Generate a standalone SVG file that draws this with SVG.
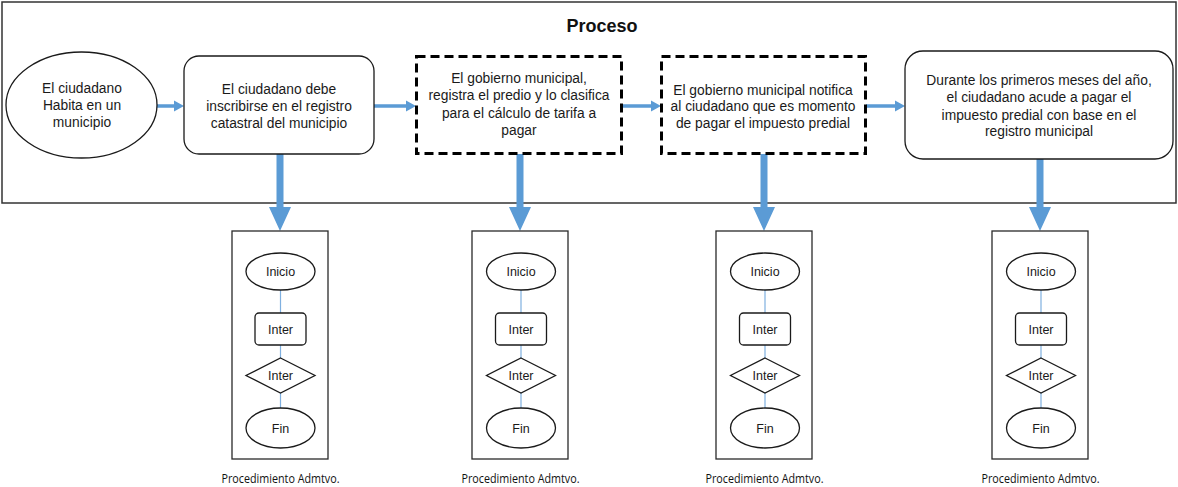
<svg xmlns="http://www.w3.org/2000/svg" width="1178" height="487" viewBox="0 0 1178 487">
<style>
.t{font-family:"Liberation Sans",Arial,sans-serif;font-size:13.8px;fill:#1a1a1a;text-anchor:middle}
.s{font-family:"Liberation Sans",Arial,sans-serif;font-size:12.5px;fill:#1a1a1a;text-anchor:middle}
.l{font-family:"Open Sans","Liberation Sans",sans-serif;font-size:12px;fill:#111;text-anchor:middle}
.n{fill:#fff;stroke:#1a1a1a;stroke-width:1.3}
.d{fill:#fff;stroke:#000;stroke-width:3;stroke-dasharray:9 5}
.a{fill:#5b9bd5}
.c{stroke:#7fb0e0;stroke-width:1.2;fill:none}
.f{fill:none;stroke:#2a2a2a;stroke-width:1.3}
</style>
<rect width="1178" height="487" fill="#fff"/>
<rect id="frame" x="2" y="2" width="1174" height="201" fill="none" stroke="#333" stroke-width="1.5"/>
<text x="602" y="32" style="font-family:'Liberation Sans',Arial,sans-serif;font-size:18px;font-weight:bold;text-anchor:middle;fill:#111">Proceso</text>

<g id="connectors">
<polygon class="a" points="157,104.2 174,104.2 174,100.5 184,106 174,111.5 174,107.8 157,107.8"/>
<polygon class="a" points="374,104.2 406,104.2 406,100.5 416,106 406,111.5 406,107.8 374,107.8"/>
<polygon class="a" points="622,104.2 651,104.2 651,100.5 661,106 651,111.5 651,107.8 622,107.8"/>
<polygon class="a" points="866,104.2 895,104.2 895,100.5 905,106 895,111.5 895,107.8 866,107.8"/>
<polygon class="a" points="276.5,154 283.5,154 283.5,207 291,207 280,231 269,207 276.5,207"/>
<polygon class="a" points="516.5,154 523.5,154 523.5,207 531,207 520,231 509,207 516.5,207"/>
<polygon class="a" points="760.5,154 767.5,154 767.5,207 775,207 764,231 753,207 760.5,207"/>
<polygon class="a" points="1036.5,159 1043.5,159 1043.5,207 1051,207 1040,231 1029,207 1036.5,207"/>
</g>

<g id="n1">
<ellipse class="n" cx="81.5" cy="105" rx="75.5" ry="53"/>
<text class="t" x="82" y="93">El ciudadano</text>
<text class="t" x="82" y="110">Habita en un</text>
<text class="t" x="82" y="127">municipio</text>
</g>
<g id="n2">
<rect class="n" x="184" y="56" width="190" height="98" rx="15"/>
<text class="t" x="279" y="94">El ciudadano debe</text>
<text class="t" x="279" y="111">inscribirse en el registro</text>
<text class="t" x="279" y="128">catastral del municipio</text>
</g>
<g id="n3">
<rect class="d" x="416.5" y="56.5" width="205" height="97"/>
<text class="t" x="519" y="83">El gobierno municipal,</text>
<text class="t" x="519" y="100">registra el predio y lo clasifica</text>
<text class="t" x="519" y="118">para el cálculo de tarifa a</text>
<text class="t" x="519" y="135">pagar</text>
</g>
<g id="n4">
<rect class="d" x="661.5" y="56.5" width="204" height="97"/>
<text class="t" x="763" y="95">El gobierno municipal notifica</text>
<text class="t" x="763" y="111">al ciudadano que es momento</text>
<text class="t" x="763" y="128">de pagar el impuesto predial</text>
</g>
<g id="n5">
<rect class="n" x="905" y="51" width="268" height="108" rx="18"/>
<text class="t" x="1039" y="85">Durante los primeros meses del año,</text>
<text class="t" x="1039" y="102">el ciudadano acude a pagar el</text>
<text class="t" x="1039" y="120">impuesto predial con base en el</text>
<text class="t" x="1039" y="136">registro municipal</text>
</g>

<g id="p1">
<rect class="f" x="232" y="231" width="96" height="228"/>
<line class="c" x1="280.5" y1="290" x2="280.5" y2="313"/>
<line class="c" x1="280.5" y1="345" x2="280.5" y2="358"/>
<line class="c" x1="280.5" y1="393" x2="280.5" y2="408"/>
<ellipse class="n" cx="280.5" cy="271.5" rx="34.5" ry="18.5"/>
<text class="s" x="280.5" y="276">Inicio</text>
<rect class="n" x="255" y="313" width="51" height="32" rx="4"/>
<text class="s" x="280.5" y="334">Inter</text>
<polygon class="n" points="280.5,358 315,375.5 280.5,393 246,375.5"/>
<text class="s" x="280.5" y="380">Inter</text>
<ellipse class="n" cx="280.5" cy="428" rx="34.5" ry="20"/>
<text class="s" x="280.5" y="433">Fin</text>
<text class="l" x="280.5" y="483" textLength="118" lengthAdjust="spacingAndGlyphs">Procedimiento Admtvo.</text>
</g>
<g id="p2">
<rect class="f" x="472" y="231" width="96" height="228"/>
<line class="c" x1="521" y1="290" x2="521" y2="313"/>
<line class="c" x1="521" y1="345" x2="521" y2="358"/>
<line class="c" x1="521" y1="393" x2="521" y2="408"/>
<ellipse class="n" cx="521" cy="271.5" rx="34.5" ry="18.5"/>
<text class="s" x="521" y="276">Inicio</text>
<rect class="n" x="495.5" y="313" width="51" height="32" rx="4"/>
<text class="s" x="521" y="334">Inter</text>
<polygon class="n" points="521,358 555.5,375.5 521,393 486.5,375.5"/>
<text class="s" x="521" y="380">Inter</text>
<ellipse class="n" cx="521" cy="428" rx="34.5" ry="20"/>
<text class="s" x="521" y="433">Fin</text>
<text class="l" x="520.5" y="483" textLength="118" lengthAdjust="spacingAndGlyphs">Procedimiento Admtvo.</text>
</g>
<g id="p3">
<rect class="f" x="716" y="231" width="96" height="228"/>
<line class="c" x1="765" y1="290" x2="765" y2="313"/>
<line class="c" x1="765" y1="345" x2="765" y2="358"/>
<line class="c" x1="765" y1="393" x2="765" y2="408"/>
<ellipse class="n" cx="765" cy="271.5" rx="34.5" ry="18.5"/>
<text class="s" x="765" y="276">Inicio</text>
<rect class="n" x="739.5" y="313" width="51" height="32" rx="4"/>
<text class="s" x="765" y="334">Inter</text>
<polygon class="n" points="765,358 799.5,375.5 765,393 730.5,375.5"/>
<text class="s" x="765" y="380">Inter</text>
<ellipse class="n" cx="765" cy="428" rx="34.5" ry="20"/>
<text class="s" x="765" y="433">Fin</text>
<text class="l" x="764.5" y="483" textLength="118" lengthAdjust="spacingAndGlyphs">Procedimiento Admtvo.</text>
</g>
<g id="p4">
<rect class="f" x="992" y="231" width="96" height="228"/>
<line class="c" x1="1041" y1="290" x2="1041" y2="313"/>
<line class="c" x1="1041" y1="345" x2="1041" y2="358"/>
<line class="c" x1="1041" y1="393" x2="1041" y2="408"/>
<ellipse class="n" cx="1041" cy="271.5" rx="34.5" ry="18.5"/>
<text class="s" x="1041" y="276">Inicio</text>
<rect class="n" x="1015.5" y="313" width="51" height="32" rx="4"/>
<text class="s" x="1041" y="334">Inter</text>
<polygon class="n" points="1041,358 1075.5,375.5 1041,393 1006.5,375.5"/>
<text class="s" x="1041" y="380">Inter</text>
<ellipse class="n" cx="1041" cy="428" rx="34.5" ry="20"/>
<text class="s" x="1041" y="433">Fin</text>
<text class="l" x="1040.5" y="483" textLength="118" lengthAdjust="spacingAndGlyphs">Procedimiento Admtvo.</text>
</g>
</svg>
